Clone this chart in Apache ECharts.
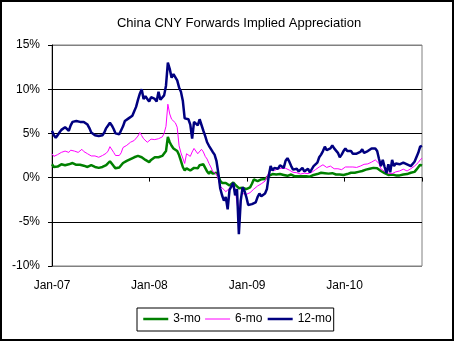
<!DOCTYPE html>
<html>
<head>
<meta charset="utf-8">
<script src="https://cdn.jsdelivr.net/npm/echarts@6/dist/echarts.min.js"></script>
<style>
  html, body { margin: 0; padding: 0; background: #fff; }
  #chart { width: 455px; height: 342px; }
</style>
</head>
<body>
<div id="chart"></div>
<script>
// Implied CNY appreciation priced into 3/6/12-month forwards, weekly, %
const chartTitle = 'China CNY Forwards Implied Appreciation';
const seriesNames = ['3-mo', '6-mo', '12-mo'];
const firstWeek = [2007, 0, 1];      // week starting Mon 1 Jan 2007
const lastDay = [2010, 9, 18];
const yRange = { min: -10, max: 15, step: 5 };

const threeMonth = [
  1.5, 1.2, 1.1, 1.25, 1.35, 1.5, 1.45, 1.4, 1.45, 1.5,
  1.65, 1.65, 1.5, 1.45, 1.4, 1.45, 1.5, 1.35, 1.3, 1.2,
  1.25, 1.4, 1.3, 1.2, 1.15, 1.1, 1.15, 1.2, 1.3, 1.4,
  1.6, 1.85, 1.7, 1.3, 1.05, 0.95, 1.15, 1.4, 1.65, 1.8,
  1.9, 2.0, 2.1, 2.25, 2.3, 2.35, 2.45, 2.5, 2.3, 2.15,
  2.0, 1.8, 1.75, 2.0, 2.15, 2.3, 2.25, 2.3, 2.4, 2.45,
  2.6, 3.0, 4.6, 4.0, 3.6, 3.3, 3.1, 3.0, 2.55, 1.9,
  1.2, 0.8, 1.05, 0.9, 0.8, 0.95, 1.1, 1.0, 1.05, 1.4,
  1.55, 1.5, 1.1, 0.7, 0.45, 0.7, 0.45, 0.5, 0.55, 0.2,
  -0.35, -0.6, -0.75, -0.6, -0.6, -0.9, -0.8, -0.55, -0.8, -1.0,
  -1.2, -1.3, -1.15, -1.2, -1.3, -1.2, -1.1, -0.7, -0.2, -0.3,
  -0.4, -0.25, -0.2, -0.2, -0.15, 0.0, 0.2, 0.4, 0.4, 0.4,
  0.35, 0.3, 0.4, 0.35, 0.3, 0.25, 0.2, 0.3, 0.35, 0.2,
  0.15, 0.1, 0.15, 0.2, 0.15, 0.1, 0.15, 0.2, 0.1, 0.15,
  0.3, 0.35, 0.4, 0.5, 0.55, 0.55, 0.5, 0.4, 0.45, 0.55,
  0.5, 0.4, 0.35, 0.3, 0.35, 0.4, 0.3, 0.35, 0.4, 0.5,
  0.55, 0.55, 0.55, 0.6, 0.65, 0.75, 0.75, 0.75, 0.9, 1.0,
  1.0, 1.05, 1.1, 1.1, 1.05, 0.9, 0.75, 0.6, 0.5, 0.35,
  0.3, 0.4, 0.35, 0.3, 0.25, 0.2, 0.25, 0.3, 0.35, 0.4,
  0.4, 0.45, 0.55, 0.55, 0.65, 0.9, 1.1, 1.45, 1.35
];

const sixMonth = [
  2.7, 2.4, 2.3, 2.6, 2.7, 2.85, 2.9, 3.0, 2.9, 2.85,
  3.1, 3.15, 3.0, 2.95, 2.85, 3.0, 3.2, 2.95, 2.85, 2.7,
  2.6, 2.45, 2.5, 2.45, 2.35, 2.3, 2.4, 2.5, 2.6, 2.75,
  3.0, 3.5, 3.3, 2.85, 2.5, 2.3, 2.5, 2.8, 3.4, 3.6,
  3.65, 3.8, 4.0, 4.1, 4.2, 4.4, 4.7, 5.1, 4.75, 4.4,
  4.2, 4.0, 4.2, 4.35, 4.2, 4.3, 4.5, 4.4, 4.35, 4.6,
  5.0, 5.8, 8.3, 7.2, 6.6, 6.5, 6.2, 5.7, 3.6, 2.8,
  2.2, 1.6, 2.7, 2.5, 2.4, 2.9, 3.3, 3.0, 2.7, 2.85,
  3.2, 2.9, 2.4, 2.1, 1.6, 1.2, 0.7, 0.5, 0.4, -0.2,
  -1.0, -1.2, -1.35, -1.6, -1.5, -1.2, -1.05, -1.0, -1.3, -1.5,
  -4.4, -2.2, -1.8, -1.75, -1.9, -1.8, -1.7, -1.5, -1.3, -1.1,
  -0.95, -0.8, -0.7, -0.6, -0.4, -0.2, 0.55, 1.0, 0.8, 0.8,
  0.95, 1.0, 1.0, 1.05, 1.1, 1.05, 0.95, 0.85, 0.7, 0.6,
  0.55, 0.55, 0.45, 0.4, 0.5, 0.5, 0.45, 0.45, 0.5, 0.6,
  0.75, 0.9, 1.0, 1.2, 1.35, 1.45, 1.35, 1.15, 1.2, 1.3,
  1.15, 1.0, 1.05, 1.0, 0.8, 0.9, 1.1, 1.2, 1.3, 1.2,
  1.1, 1.2, 1.3, 1.15, 1.2, 1.3, 1.4, 1.5, 1.45, 1.55,
  1.65, 1.75, 1.85, 2.0, 2.1, 1.6, 1.0, 0.85, 0.7, 0.6,
  0.5, 0.45, 0.45, 0.55, 0.65, 0.75, 0.75, 0.8, 0.95, 0.85,
  0.75, 0.9, 1.0, 1.15, 1.3, 1.45, 1.7, 2.0, 2.2
];

const twelveMonth = [
  5.3, 4.8, 4.5, 4.8, 5.1, 5.4, 5.6, 5.7, 5.5, 5.3,
  5.9, 6.3, 6.5, 6.4, 6.4, 6.3, 6.4, 6.3, 6.2, 6.0,
  5.6, 5.1, 4.9, 4.8, 4.8, 4.7, 4.6, 4.8, 5.1, 5.6,
  5.9, 6.2, 5.9, 5.5, 5.0, 4.9, 4.9, 5.1, 5.8, 6.4,
  6.6, 6.7, 6.8, 7.0, 7.5, 8.0, 8.8, 9.5, 10.0, 8.9,
  9.2, 8.9, 8.6, 9.1, 9.3, 8.9, 8.6, 9.7, 8.8, 8.9,
  9.3, 10.4, 13.0, 12.3, 11.3, 11.7, 11.6, 11.0, 10.2, 9.7,
  8.7, 6.7, 6.9, 6.6, 6.0, 4.4, 6.3, 6.2, 5.9, 6.6,
  6.4, 5.3, 4.7, 4.0, 3.6, 3.4, 2.9, 2.6, 1.9, 0.5,
  -1.2, -2.0, -2.6, -2.2, -3.6, -1.4, -1.5, -0.6, -2.0, -1.3,
  -6.4, -2.6, -1.1, -1.5, -2.2, -3.1, -3.2, -3.0, -3.1, -2.8,
  -2.2, -1.8, -2.1, -2.1, -1.8, -1.3, 0.2, 1.3, 0.8, 1.1,
  1.2, 1.0, 1.4, 1.3, 1.1, 1.9, 2.2, 1.8, 1.3, 0.9,
  0.8, 1.0, 0.7, 0.6, 1.1, 0.7, 0.5, 1.0, 0.6, 0.6,
  1.3, 1.5, 1.7, 2.3, 2.6, 3.0, 3.5, 3.1, 3.1, 3.3,
  3.65, 3.3, 3.1, 2.8, 2.3, 2.6, 3.0, 3.3, 3.0, 3.1,
  3.0, 2.7, 2.85, 2.7, 2.75, 2.9, 3.2, 2.8, 2.8, 3.0,
  3.1, 3.3, 3.4, 3.3, 3.0, 2.1, 1.3, 2.0, 1.2, 0.5,
  1.5, 0.6, 2.0, 1.3, 1.6, 1.7, 1.5, 1.5, 1.7, 1.6,
  1.5, 1.4, 1.3, 1.5, 1.8, 2.0, 2.8, 3.5, 3.6
];

const lineColors = ['#008000', '#ff00ff', '#000080'];
const lineWidths = [2.5, 1, 2.5];
const FONT = '"Liberation Sans", Arial, sans-serif';
const WEEK = 7 * 24 * 3600 * 1000;
const YEAR = 365 * 24 * 3600 * 1000;
const t0 = Date.UTC(firstWeek[0], firstWeek[1], firstWeek[2]);
const tEnd = Date.UTC(lastDay[0], lastDay[1], lastDay[2]);

const pairs = (values) => values.map((v, i) => [t0 + i * WEEK, v]);
const seriesValues = [threeMonth, sixMonth, twelveMonth];

const chart = echarts.init(document.getElementById('chart'), null, { renderer: 'canvas' });

const yearLabel = (v) => 'Jan-' + String(new Date(v).getUTCFullYear()).slice(2);

chart.setOption({
  useUTC: true,
  animation: false,
  backgroundColor: '#fff',
  textStyle: { fontFamily: FONT },
  title: {
    text: chartTitle,
    left: 239,
    top: 17,
    padding: 0,
    textAlign: 'center',
    textStyle: { fontFamily: FONT, fontSize: 13, fontWeight: 'normal', color: '#000' }
  },
  grid: {
    left: 52, right: 33, top: 45, bottom: 76,
    show: true, borderColor: '#808080', borderWidth: 1, backgroundColor: '#fff'
  },
  legend: {
    data: seriesNames.map((n, i) => ({
      name: n,
      lineStyle: { width: lineWidths[i] },
      itemStyle: { opacity: 0, color: 'transparent', borderWidth: 0 }
    })),
    left: 137,
    top: 308,
    padding: [5, 2, 6, 5],
    itemGap: 4,
    itemWidth: 25,
    itemHeight: 12,
    borderColor: '#000',
    borderWidth: 1,
    backgroundColor: '#fff',
    textStyle: { fontFamily: FONT, fontSize: 12, color: '#000' }
  },
  xAxis: [
    {
      type: 'time',
      min: t0, max: tEnd,
      minInterval: YEAR, maxInterval: YEAR * 1.01,
      axisLine: { show: true, onZero: true, lineStyle: { color: '#000', width: 1 } },
      axisTick: { show: true, length: 4, lineStyle: { color: '#000' } },
      axisLabel: { show: false },
      splitLine: { show: false }
    },
    {
      type: 'time',
      position: 'bottom',
      min: t0, max: tEnd,
      minInterval: YEAR, maxInterval: YEAR * 1.01,
      axisLine: { show: false, onZero: false },
      axisTick: { show: false },
      splitLine: { show: false },
      axisLabel: {
        show: true, margin: 14, showMaxLabel: false,
        fontFamily: FONT, fontSize: 12, color: '#000',
        formatter: yearLabel
      }
    }
  ],
  yAxis: {
    type: 'value',
    min: yRange.min, max: yRange.max, interval: yRange.step,
    axisLine: { show: true, lineStyle: { color: '#000', width: 1 } },
    axisTick: { show: true, length: 4, lineStyle: { color: '#000' } },
    axisLabel: { margin: 12, fontFamily: FONT, fontSize: 12, color: '#000', formatter: '{value}%' },
    splitLine: {
      show: true,
      lineStyle: { color: ['#808080', '#000', '#000', '#000', '#000', '#808080'], width: 1 }
    }
  },
  series: seriesNames.map((name, i) => ({
    name,
    type: 'line',
    xAxisIndex: 0,
    data: pairs(seriesValues[i]),
    showSymbol: false,
    symbol: 'none',
    lineStyle: { color: lineColors[i], width: lineWidths[i] },
    itemStyle: { color: lineColors[i] },
    emphasis: { disabled: true }
  })),
  graphic: [
    {
      type: 'rect',
      z: 100,
      silent: true,
      shape: { x: 1, y: 1, width: 452, height: 339 },
      style: { fill: 'none', stroke: '#000', lineWidth: 2 }
    }
  ]
});
</script>
</body>
</html>
